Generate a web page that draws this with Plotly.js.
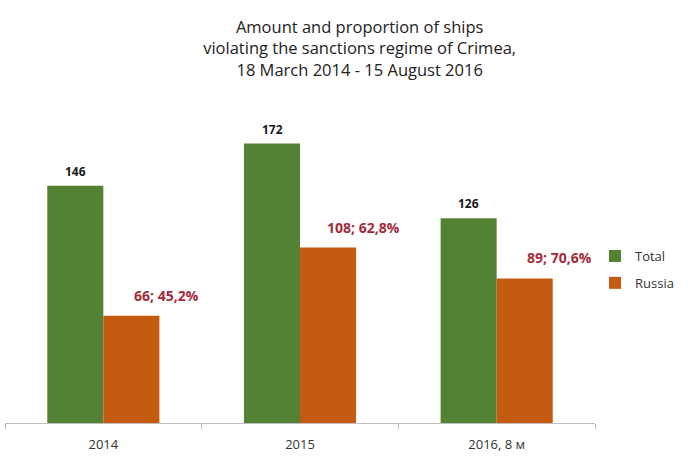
<!DOCTYPE html>
<html>
<head>
<meta charset="utf-8">
<script src="https://cdn.plot.ly/plotly-3.0.1.min.js"></script>
<style>html,body{margin:0;padding:0;background:#fff;}#chart{width:697px;height:473px;}</style>
</head>
<body>
<div id="chart"></div>
<script>
var categories = ["2014", "2015", "2016, 8 м"];
var totalValues = [146, 172, 126];
var russiaValues = [66, 108, 89];
var russiaShare = ["45,2%", "62,8%", "70,6%"];
var seriesNames = ["Total", "Russia"];

var green = "#548235";
var orange = "#c55a11";
var labelRed = "#a52a3a";
var font = "Open Sans, sans-serif";

var xIdx = categories.map(function (c, i) { return i; });
var boundaries = [-0.5].concat(xIdx.map(function (i) { return i + 0.5; }));

var traces = [
  {type: "bar", name: seriesNames[0], x: xIdx, y: totalValues, marker: {color: green},
   legendgroup: "a", hoverinfo: "skip"},
  {type: "bar", name: seriesNames[1], x: xIdx, y: russiaValues, marker: {color: orange},
   legendgroup: "b", hoverinfo: "skip"}
];

var annotations = [];
xIdx.forEach(function (i) {
  annotations.push({
    x: i, y: totalValues[i], xref: "x", yref: "y", text: "<b>" + totalValues[i] + "</b>",
    showarrow: false, xshift: -28, yanchor: "bottom", yshift: 4,
    font: {family: font, size: 12, color: "#1a1a1a"}
  });
  annotations.push({
    x: i, y: russiaValues[i], xref: "x", yref: "y",
    text: "<b>" + russiaValues[i] + "; " + russiaShare[i] + "</b>",
    showarrow: false, xshift: 63, yanchor: "bottom", yshift: 9,
    font: {family: font, size: 14, color: labelRed}
  });
});

var layout = {
  width: 697, height: 473,
  margin: {l: 5, r: 98, t: 98, b: 50},
  paper_bgcolor: "#fff", plot_bgcolor: "#fff",
  title: {
    text: "Amount and proportion of ships<br>violating the sanctions regime of Crimea,<br>18 March 2014 - 15 August 2016",
    x: 0.516, xref: "container", xanchor: "center",
    y: 1 - 33 / 473, yref: "container", yanchor: "top",
    font: {family: font, size: 16.5, color: "#222"}
  },
  barmode: "group", bargap: 0.43, bargroupgap: 0,
  xaxis: {
    type: "linear", range: [-0.5, categories.length - 0.5],
    tickmode: "array", tickvals: xIdx, ticktext: categories, ticks: "",
    ticklabelstandoff: 9,
    showline: true, linecolor: "#bfbfbf", linewidth: 1,
    minor: {tickmode: "array", tickvals: boundaries, ticks: "outside", ticklen: 5, tickcolor: "#bfbfbf", showgrid: false},
    tickfont: {family: font, size: 13, color: "#333"}, showgrid: false, zeroline: false,
    fixedrange: true
  },
  yaxis: {range: [0, 200], visible: false, showgrid: false, zeroline: false, fixedrange: true},
  showlegend: true,
  legend: {
    x: 595 / 697, xref: "container", xanchor: "left",
    y: 1 - 241 / 473, yref: "container", yanchor: "top",
    traceorder: "grouped", tracegroupgap: 7,
    font: {family: font, size: 13, color: "#333"}, itemwidth: 30,
    bgcolor: "rgba(0,0,0,0)"
  },
  annotations: annotations
};

Plotly.newPlot("chart", traces, layout, {staticPlot: true, displayModeBar: false});
</script>
</body>
</html>
